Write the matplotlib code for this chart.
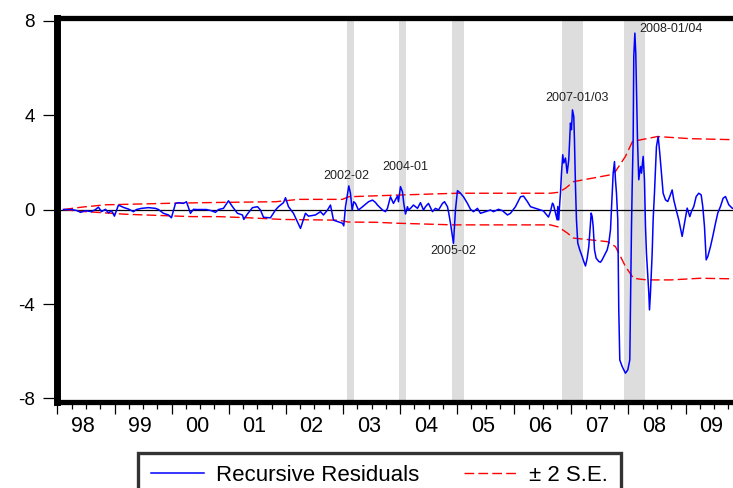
import matplotlib
matplotlib.use("Agg")
import matplotlib.pyplot as plt
from matplotlib.transforms import blended_transform_factory

plt.rcParams['font.family'] = ['Liberation Sans', 'DejaVu Sans']

# recursive residuals (decimal year, value)
resid_t = [
    1998.105, 1998.245, 1998.350, 1998.403, 1998.490, 1998.595, 1998.665, 1998.718, 1998.771, 1998.841,
    1998.893, 1998.946, 1998.998, 1999.068, 1999.156, 1999.243, 1999.331, 1999.384, 1999.471, 1999.594,
    1999.716, 1999.769, 1999.856, 1999.944, 1999.996, 2000.067, 2000.119, 2000.207, 2000.259, 2000.329,
    2000.382, 2000.434, 2000.609, 2000.697, 2000.767, 2000.820, 2000.907, 2000.995, 2001.065, 2001.152,
    2001.240, 2001.263, 2001.327, 2001.415, 2001.503, 2001.555, 2001.608, 2001.730, 2001.818, 2001.870,
    2001.958, 2001.993, 2002.046, 2002.133, 2002.256, 2002.343, 2002.396, 2002.518, 2002.606, 2002.658,
    2002.729, 2002.781, 2002.834, 2002.921, 2002.991, 2003.014, 2003.044, 2003.102, 2003.131, 2003.161,
    2003.189, 2003.219, 2003.271, 2003.359, 2003.447, 2003.517, 2003.569, 2003.604, 2003.692, 2003.744,
    2003.779, 2003.832, 2003.884, 2003.954, 2003.972, 2004.007, 2004.042, 2004.065, 2004.095, 2004.130,
    2004.147, 2004.182, 2004.235, 2004.305, 2004.357, 2004.410, 2004.445, 2004.497, 2004.567, 2004.620,
    2004.673, 2004.743, 2004.778, 2004.830, 2004.848, 2004.883, 2004.918, 2004.935, 2004.953, 2004.970,
    2005.005, 2005.058, 2005.110, 2005.180, 2005.233, 2005.285, 2005.355, 2005.408, 2005.496, 2005.583,
    2005.636, 2005.723, 2005.793, 2005.881, 2005.933, 2006.021, 2006.109, 2006.161, 2006.231, 2006.284,
    2006.371, 2006.459, 2006.511, 2006.581, 2006.599, 2006.634, 2006.669, 2006.687, 2006.722, 2006.751,
    2006.762, 2006.779, 2006.797, 2006.809, 2006.827, 2006.849, 2006.867, 2006.897, 2006.926, 2006.954,
    2006.984, 2007.002, 2007.019, 2007.042, 2007.054, 2007.072, 2007.089, 2007.112, 2007.147, 2007.189,
    2007.217, 2007.247, 2007.277, 2007.305, 2007.322, 2007.347, 2007.364, 2007.382, 2007.405, 2007.434,
    2007.480, 2007.510, 2007.539, 2007.567, 2007.597, 2007.627, 2007.655, 2007.685, 2007.715, 2007.732,
    2007.755, 2007.772, 2007.790, 2007.813, 2007.830, 2007.848, 2007.890, 2007.918, 2007.947, 2007.988,
    2008.023, 2008.035, 2008.053, 2008.065, 2008.082, 2008.093, 2008.112, 2008.128, 2008.145, 2008.158,
    2008.180, 2008.210, 2008.228, 2008.257, 2008.280, 2008.298, 2008.315, 2008.356, 2008.368, 2008.385,
    2008.415, 2008.432, 2008.455, 2008.490, 2008.520, 2008.548, 2008.578, 2008.607, 2008.648, 2008.688,
    2008.723, 2008.765, 2008.793, 2008.835, 2008.881, 2008.940, 2008.981, 2009.028, 2009.074, 2009.103,
    2009.144, 2009.186, 2009.231, 2009.273, 2009.301, 2009.331, 2009.361, 2009.389, 2009.436, 2009.476,
    2009.524, 2009.564, 2009.611, 2009.658, 2009.699, 2009.757, 2009.816, 2009.874,
]
resid_v = [
    0.00, 0.00, -0.05, -0.12, -0.05, -0.09, 0.00, 0.10, -0.09, 0.01,
    -0.14, -0.05, -0.28, 0.19, 0.09, 0.02, -0.09, 0.00, 0.05, 0.08,
    0.05, 0.00, -0.16, -0.23, -0.35, 0.26, 0.29, 0.26, 0.33, -0.16,
    0.01, 0.00, 0.00, -0.05, -0.12, 0.00, 0.05, 0.37, 0.12, -0.16,
    -0.23, -0.42, -0.19, 0.08, 0.12, -0.02, -0.33, -0.35, -0.02, 0.12,
    0.29, 0.50, 0.12, -0.16, -0.80, -0.16, -0.28, -0.23, -0.09, -0.23,
    -0.02, 0.19, -0.45, -0.52, -0.58, -0.69, 0.12, 1.00, 0.69, -0.02,
    0.33, 0.26, -0.02, 0.15, 0.33, 0.40, 0.30, 0.19, -0.02, -0.09,
    0.05, 0.54, 0.26, 0.57, 0.33, 0.97, 0.75, 0.26, -0.19, 0.12,
    -0.02, 0.05, 0.19, 0.05, 0.29, -0.02, 0.12, 0.26, -0.09, 0.05,
    -0.02, 0.26, 0.33, 0.12, -0.09, -0.58, -1.15, -1.43, -0.73, -0.02,
    0.80, 0.69, 0.54, 0.26, 0.01, -0.09, 0.05, -0.16, -0.09, -0.02,
    -0.09, 0.01, -0.05, -0.23, -0.16, 0.12, 0.54, 0.57, 0.33, 0.12,
    0.05, -0.02, -0.06, -0.27, -0.32, -0.08, 0.27, 0.20, -0.15, -0.44,
    0.13, -0.44, 0.30, 0.69, 1.54, 2.32, 1.97, 2.18, 1.54, 2.11,
    3.66, 3.38, 4.22, 3.94, 2.95, 0.97, -0.44, -1.42, -1.71, -1.99,
    -2.20, -2.39, -2.06, -1.57, -1.00, -0.15, -0.30, -0.72, -1.71, -2.06,
    -2.20, -2.23, -2.13, -1.99, -1.85, -1.71, -1.42, -0.86, 0.69, 1.54,
    2.03, 1.26, 0.69, -0.44, -4.25, -6.37, -6.65, -6.79, -6.93, -6.79,
    -6.37, -4.11, -0.72, 0.97, 2.95, 6.50, 7.47, 6.60, 4.65, 2.95,
    1.26, 1.82, 1.54, 2.25, 1.26, -0.72, -1.85, -3.54, -4.25, -3.54,
    -1.85, -0.44, 0.69, 2.67, 3.09, 2.39, 1.54, 0.69, 0.41, 0.34,
    0.55, 0.83, 0.41, -0.01, -0.44, -1.14, -0.58, 0.06, -0.30, -0.08,
    0.13, 0.55, 0.69, 0.62, 0.13, -0.72, -2.13, -1.99, -1.57, -1.14,
    -0.58, -0.15, 0.13, 0.48, 0.55, 0.20, 0.06, 0.00,
]

# +/- 2 S.E. bands
up_t = [1998.105, 1998.420, 1998.841, 2000.067, 2000.820, 2001.818, 2002.221, 2002.991, 2003.096,
        2003.569, 2004.060, 2005.005, 2006.634, 2006.774, 2006.897, 2007.037, 2007.685, 2007.772,
        2007.947, 2008.070, 2008.210, 2008.508, 2009.086, 2009.961]
up_v = [0.00, 0.10, 0.20, 0.27, 0.30, 0.33, 0.43, 0.43, 0.54,
        0.58, 0.62, 0.69, 0.69, 0.73, 0.90, 1.18, 1.47, 1.61,
        2.25, 2.88, 2.95, 3.09, 3.00, 2.95]
lo_t = [1998.105, 1998.368, 1998.893, 1999.191, 1999.769, 2000.347, 2000.820, 2001.345, 2001.940,
        2002.921, 2003.096, 2003.569, 2003.954, 2004.935, 2006.634, 2006.774, 2006.932, 2007.037,
        2007.632, 2007.772, 2007.947, 2008.088, 2008.210, 2008.333, 2008.736, 2009.261, 2009.961]
lo_v = [0.00, -0.07, -0.15, -0.20, -0.25, -0.30, -0.30, -0.35, -0.42,
        -0.45, -0.53, -0.54, -0.58, -0.65, -0.65, -0.74, -1.00, -1.21,
        -1.36, -1.57, -2.41, -2.91, -2.95, -2.98, -2.98, -2.91, -2.94]

# shaded periods
shade_start = [2003.070, 2003.985, 2004.915, 2006.840, 2007.925]
shade_end = [2003.190, 2004.100, 2005.115, 2007.200, 2008.285]

# event labels
event_text = ['2002-02', '2004-01', '2005-02', '2007-01/03', '2008-01/04']
event_t = [2003.06, 2004.10, 2004.93, 2007.09, 2008.75]
event_v = [1.42, 1.80, -1.76, 4.72, 7.65]

years = list(range(1998, 2010))
year_labels = ['98', '99', '00', '01', '02', '03', '04', '05', '06', '07', '08', '09']

fig = plt.figure(figsize=(7.33, 4.88), dpi=100)
ax = fig.add_axes([0.0784, 0.1762, 0.9348, 0.7879])

for s, e in zip(shade_start, shade_end):
    ax.axvspan(s, e, color='#dddddd', lw=0, zorder=0)

ax.axhline(0, color='black', lw=0.9, zorder=1)
ax.plot(resid_t, resid_v, color='#0000ff', lw=1.1, zorder=3, label='Recursive Residuals')
ax.plot(up_t, up_v, color='#ff0000', lw=1.0, dashes=(7, 3), zorder=2, label='\u00b1 2 S.E.')
ax.plot(lo_t, lo_v, color='#ff0000', lw=1.0, dashes=(7, 3), zorder=2)

for txt, t, v in zip(event_text, event_t, event_v):
    ax.text(t, v, txt, fontsize=9, ha='center', va='center', color='#222222')

ax.set_xlim(1998.0, 2010.0)
ax.set_ylim(-8.15, 8.13)

ax.set_yticks([-8, -4, 0, 4, 8])
ax.set_yticklabels(['-8', '-4', '0', '4', '8'])
ax.tick_params(axis='y', length=10, width=0.9, pad=6.5, labelsize=13.5, colors='black')

ax.set_xticks(years + [2010])
ax.set_xticklabels([''] * 13)
ax.set_xticks([y + q / 4 for y in years for q in (1, 2, 3)], minor=True)
ax.tick_params(axis='x', which='major', length=8.6, width=0.9)
ax.tick_params(axis='x', which='minor', length=5, width=0.9)

trans = blended_transform_factory(ax.transData, ax.transAxes)
for y, lab in zip(years, year_labels):
    ax.text(y + 0.45, -0.064, lab, transform=trans, ha='center', va='center',
            fontsize=15.5, clip_on=False)

ax.spines['left'].set_linewidth(5)
ax.spines['top'].set_linewidth(3.8)
ax.spines['bottom'].set_linewidth(3.8)
ax.spines['right'].set_linewidth(3.8)

leg = fig.legend(loc='upper center', bbox_to_anchor=(0.5177, 0.0717), ncol=2, fontsize=16,
                 frameon=True, fancybox=False, handlelength=2.4, handletextpad=0.55,
                 columnspacing=2.0, borderpad=0.55, borderaxespad=0)
leg.get_frame().set_edgecolor('black')
leg.get_frame().set_linewidth(2.4)

fig.savefig('out.png', dpi=100)
